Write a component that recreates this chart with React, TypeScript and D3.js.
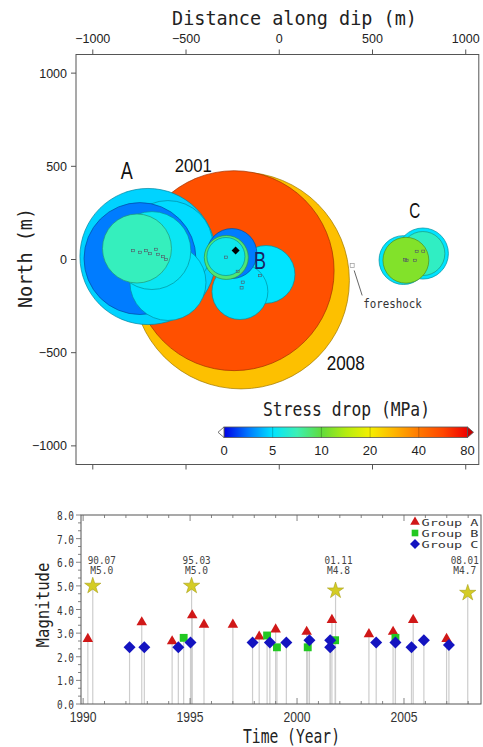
import * as d3 from 'd3';
import React from 'react';

// rupture circles, metres (along dip, north), radius in metres, stress drop in MPa
// order = drawing order: 2008, 2001, group A, group B, group C
const ruptureX = [-205, -242, -704, -597, -747, -597, -683, -763, -71, -211, -254, -284, -286, 666, 770, 770, 679];
const ruptureY = [-113, -60, 16, 75, 5, -123, 48, 59, -80, -172, 32, 11, 16, -3, 32, 32, -4];
const ruptureR = [581, 536, 365, 241, 300, 204, 209, 185, 155, 150, 134, 118, 102, 131, 137, 118, 123];
const ruptureStress = [28, 56, 4.6, 4.8, 2.6, 5, 5.4, 7.2, 5, 5, 2.6, 8.8, 5.6, 5, 5, 7, 12];

// small event marks (hypocentres)
const hypoX = [-784, -747, -715, -693, -661, -650, -624, -607, -286, -223, -196, -202, -103, 674, 683, 728, 737, 772];
const hypoY = [48, 38, 48, 32, 54, 27, 16, 0, 12, -64, -122, -152, -86, -2, -5, -5, 43, 44];
const mainHypo = [-234, 48];
const foreshock = [391, -32];

// colour bar
const cbTicks = [0, 5, 10, 20, 40, 80];
const cbStops = [0, 0.5, 1, 1.5, 2, 2.5, 3, 3.5, 4, 4.5, 5];
const cbColors = ['#0000e6', '#0078ff', '#00e4ff', '#3cf0b4', '#60dc3c', '#b4ec10', '#f5f000', '#ffb400', '#ff7800', '#ff4600', '#f00000'];

// magnitude time series
const yearsA = [1990.22, 1992.74, 1994.16, 1995.1, 1995.65, 1997.0, 1998.23, 1999.0, 2000.45, 2001.63, 2003.36, 2004.49, 2005.43, 2006.99];
const magsA = [2.8, 3.5, 2.7, 3.8, 3.4, 3.4, 2.9, 3.2, 3.1, 3.6, 3.0, 3.1, 3.6, 2.8];
const yearsB = [1994.7, 1998.6, 1999.06, 2000.5, 2001.78, 2004.6];
const magsB = [2.8, 2.9, 2.4, 2.4, 2.7, 2.8];
const yearsC = [1992.17, 1992.86, 1994.45, 1995.02, 1997.92, 1998.73, 1999.5, 2000.58, 2001.55, 2001.55, 2003.7, 2004.6, 2005.35, 2005.93, 2007.1];
const magsC = [2.4, 2.4, 2.4, 2.6, 2.6, 2.6, 2.6, 2.7, 2.7, 2.4, 2.6, 2.6, 2.4, 2.7, 2.5];
const mainYears = [1990.45, 1995.07, 2001.8, 2007.98];
const mainMags = [5.0, 5.0, 4.8, 4.7];
const mainDates = ['90.07', '95.03', '01.11', '08.01'];
const groupNames = ['Group  A', 'Group  B', 'Group  C'];

const MONO = '"DejaVu Sans Mono", monospace';
const SANS = '"Liberation Sans", Arial, sans-serif';

function Txt(props: any) {
  const { x, y, size, w, anchor = 'middle', rotate, fill = '#222', family = MONO, children } = props;
  return (
    <text
      x={x}
      y={y}
      fontSize={size}
      fontFamily={family}
      textAnchor={anchor}
      textLength={w}
      lengthAdjust={w ? 'spacingAndGlyphs' : undefined}
      transform={rotate ? `rotate(${rotate} ${x} ${y})` : undefined}
      fill={fill}>
      {children}
    </text>
  );
}

export default function App() {
  const W = 483;
  const H = 747;

  // top panel
  const x = d3.scaleLinear().domain([-1090, 1070]).range([76, 478.8]);
  const y = d3.scaleLinear().domain([-1100, 1100]).range([464.5, 54.5]);
  const rpx = (r: number) => x(r) - x(0);
  const [tx0, tx1] = x.range();
  const [ty1, ty0] = y.range();
  const distTicks = d3.range(-1000, 1001, 500);

  const stressIdx = d3.scaleLinear().domain(cbTicks).range([0, 1, 2, 3, 4, 5]).clamp(true);
  const idxColor = d3.scaleLinear<string>().domain(cbStops).range(cbColors).interpolate(d3.interpolateRgb);
  const stressColor = (s: number) => idxColor(stressIdx(s));
  const cbX = d3.scaleLinear().domain([0, 5]).range([224, 467.5]);
  const cbY0 = 427;
  const cbY1 = 437.5;

  // bottom panel
  const t = d3.scaleLinear().domain([1989.9, 2008.6]).range([81, 481]);
  const m = d3.scaleLinear().domain([0, 8]).range([704, 515]);
  const [bx0, bx1] = t.range();
  const [by0, by1] = m.range();

  const tri = d3.symbol(d3.symbolTriangle, 48)()!;
  const sq = d3.symbol(d3.symbolSquare, 62)()!;
  const star = d3.symbol(d3.symbolStar, 82)()!;
  const dia = (r: number) => `M0,${-r}L${r},0L0,${r}L${-r},0Z`;

  const groups = [
    { years: yearsA, mags: magsA, path: tri, small: d3.symbol(d3.symbolTriangle, 40)()!, fill: '#d01818', dy: 1 },
    { years: yearsB, mags: magsB, path: sq, small: d3.symbol(d3.symbolSquare, 44)()!, fill: '#22c822', dy: 0 },
    { years: yearsC, mags: magsC, path: dia(6), small: dia(5), fill: '#1414c0', dy: 0 },
  ];

  const stems: React.ReactElement[] = [];
  groups.forEach((g, gi) =>
    g.years.forEach((yr, i) =>
      stems.push(
        <line key={`s${gi}-${i}`} x1={t(yr)} x2={t(yr)} y1={m(g.mags[i])} y2={by0} stroke='#cdcdcd' strokeWidth={1.2} />
      )
    )
  );
  mainYears.forEach((yr, i) =>
    stems.push(<line key={`sm${i}`} x1={t(yr)} x2={t(yr)} y1={m(mainMags[i])} y2={by0} stroke='#cdcdcd' strokeWidth={1.2} />)
  );

  const labelDx = [9, 5, 3, -3];
  const magMinor = d3.range(0, 8.001, 1 / 3);
  const yearMinor = d3.range(1990, 2009, 1);

  return (
    <svg width={W} height={H} style={{ position: 'absolute', left: 0, top: 0, background: 'white' }}>
      <defs>
        <linearGradient id='cb' x1='0' x2='1' y1='0' y2='0'>
          {d3.range(0, 51).map((i) => (
            <stop key={i} offset={i / 50} stopColor={idxColor(i / 10)} />
          ))}
        </linearGradient>
        <clipPath id='topclip'>
          <rect x={tx0} y={ty0} width={tx1 - tx0} height={ty1 - ty0} />
        </clipPath>
      </defs>

      {/* ---------- top panel ---------- */}
      <Txt x={294.5} y={25} size={19.5} w={245}>Distance along dip (m)</Txt>
      <Txt x={32} y={258} size={19.5} w={100} rotate={-90}>North (m)</Txt>

      <g clipPath='url(#topclip)'>
        {ruptureX.map((cx, i) => {
          const fill = stressColor(ruptureStress[i]);
          return (
            <circle
              key={i}
              cx={x(cx)}
              cy={y(ruptureY[i])}
              r={rpx(ruptureR[i])}
              fill={fill}
              stroke={d3.color(fill)!.darker(1.3).formatHex()}
              strokeWidth={0.7}
            />
          );
        })}
        {hypoX.map((hx, i) => (
          <rect key={i} x={x(hx) - 1.5} y={y(hypoY[i]) - 1.2} width={3} height={2.4} fill='none' stroke='#556' strokeWidth={0.6} />
        ))}
        <path d={dia(4)} transform={`translate(${x(mainHypo[0])},${y(mainHypo[1])})`} fill='#000' />
        <rect x={x(foreshock[0]) - 2} y={y(foreshock[1]) - 2} width={4} height={4} fill='none' stroke='#999' strokeWidth={0.7} />
        <line
          x1={x(foreshock[0]) + 2}
          y1={y(foreshock[1]) + 5}
          x2={x(foreshock[0]) + 10}
          y2={y(foreshock[1]) + 30}
          stroke='#555'
          strokeWidth={0.9}
        />
      </g>
      <Txt x={x(foreshock[0]) + 11} y={y(foreshock[1]) + 43} size={12.5} w={58.7} anchor='start' fill='#333'>
        foreshock
      </Txt>

      <Txt x={x(-818)} y={y(477) + 8.5} size={23} w={12} family={SANS} fill='#111'>A</Txt>
      <Txt x={x(-461)} y={y(504) + 6.7} size={18.5} w={37} family={SANS} fill='#111'>2001</Txt>
      <Txt x={x(-103)} y={y(-5) + 8.3} size={23} w={12} family={SANS} fill='#1a2060'>B</Txt>
      <Txt x={x(726)} y={y(265) + 7.8} size={22} w={11} family={SANS} fill='#111'>C</Txt>
      <Txt x={x(357)} y={y(-555) + 7.5} size={20} w={38} family={SANS} fill='#111'>2008</Txt>

      {/* frame + ticks */}
      <rect x={tx0} y={ty0} width={tx1 - tx0} height={ty1 - ty0} fill='none' stroke='#555' strokeWidth={1} />
      {distTicks.map((v) => (
        <g key={`tx${v}`}>
          <line x1={x(v)} x2={x(v)} y1={ty0} y2={ty0 - 5} stroke='#555' />
          <line x1={x(v)} x2={x(v)} y1={ty1} y2={ty1 + 5} stroke='#555' />
          <Txt x={x(v)} y={43} size={12.5} family={SANS} fill='#222'>
            {v < 0 ? `\u2212${-v}` : v}
          </Txt>
          <line x1={tx0} x2={tx0 - 5} y1={y(v)} y2={y(v)} stroke='#555' />
          <Txt x={67} y={y(v) + 4.5} size={12.5} family={SANS} anchor='end' fill='#222'>
            {v < 0 ? `\u2212${-v}` : v}
          </Txt>
        </g>
      ))}

      {/* colour bar */}
      <Txt x={346.5} y={416} size={19} w={167}>Stress drop (MPa)</Txt>
      <rect x={cbX(0)} y={cbY0} width={cbX(5) - cbX(0)} height={cbY1 - cbY0} fill='url(#cb)' stroke='#555' strokeWidth={0.8} />
      {cbTicks.slice(1, -1).map((v) => (
        <line key={v} x1={cbX(stressIdx(v))} x2={cbX(stressIdx(v))} y1={cbY0} y2={cbY1} stroke='rgba(0,0,0,0.3)' strokeWidth={0.8} />
      ))}
      <path
        d={`M${cbX(0)},${cbY0}L${cbX(0) - 6},${(cbY0 + cbY1) / 2}L${cbX(0)},${cbY1}Z`}
        fill='#fff'
        stroke='#555'
        strokeWidth={0.8}
      />
      <path
        d={`M${cbX(5)},${cbY0}L${cbX(5) + 6},${(cbY0 + cbY1) / 2}L${cbX(5)},${cbY1}Z`}
        fill='#c40000'
        stroke='#555'
        strokeWidth={0.8}
      />
      {cbTicks.map((v) => (
        <Txt key={v} x={cbX(stressIdx(v))} y={455} size={13} family={SANS} fill='#222'>
          {v}
        </Txt>
      ))}

      {/* ---------- bottom panel ---------- */}
      {stems}
      {groups.map((g, gi) =>
        g.years.map((yr, i) => (
          <path key={`m${gi}-${i}`} d={g.path} transform={`translate(${t(yr)},${m(g.mags[i]) + g.dy})`} fill={g.fill} />
        ))
      )}
      {mainYears.map((yr, i) => (
        <g key={`st${i}`}>
          <path d={star} transform={`translate(${t(yr)},${m(mainMags[i])})`} fill='#d4cc24' stroke='#a8a018' strokeWidth={0.6} />
          <Txt x={t(yr) + labelDx[i]} y={564} size={10} w={28} fill='#444'>
            {mainDates[i]}
          </Txt>
          <Txt x={t(yr) + labelDx[i]} y={573.5} size={10} w={23} fill='#444'>
            {`M${mainMags[i].toFixed(1)}`}
          </Txt>
        </g>
      ))}

      {/* legend */}
      {groups.map((g, gi) => (
        <g key={`lg${gi}`}>
          <path d={g.small} transform={`translate(415,${522 + gi * 11})`} fill={g.fill} />
          <Txt x={421.5} y={525.5 + gi * 11} size={9.5} w={57} anchor='start' fill='#333'>
            {groupNames[gi]}
          </Txt>
        </g>
      ))}

      {/* frame + ticks */}
      <rect x={bx0} y={by1} width={bx1 - bx0} height={by0 - by1} fill='none' stroke='#555' strokeWidth={1} />
      {magMinor.map((v, i) => (
        <line key={`mm${i}`} x1={bx0} x2={bx0 - (i % 3 === 0 ? 5 : 3)} y1={m(v)} y2={m(v)} stroke='#666' strokeWidth={0.8} />
      ))}
      {d3.range(0, 9).map((v) => (
        <Txt key={`ml${v}`} x={74} y={m(v) + 5} size={13} w={17} anchor='end' fill='#333'>
          {v.toFixed(1)}
        </Txt>
      ))}
      {yearMinor.map((yr) => {
        const len = yr % 5 === 0 ? 6 : 3;
        return (
          <g key={`yt${yr}`}>
            <line x1={t(yr)} x2={t(yr)} y1={by1} y2={by1 + len} stroke='#666' strokeWidth={0.8} />
            <line x1={t(yr)} x2={t(yr)} y1={by0} y2={by0 - len} stroke='#666' strokeWidth={0.8} />
          </g>
        );
      })}
      {[1990, 1995, 2000, 2005].map((yr) => (
        <Txt key={`yl${yr}`} x={t(yr)} y={722} size={14} w={27} family={SANS} fill='#333'>
          {yr}
        </Txt>
      ))}
      <Txt x={49} y={605} size={18} w={85} rotate={-90}>Magnitude</Txt>
      <Txt x={291.5} y={743} size={19} w={97}>Time (Year)</Txt>
    </svg>
  );
}
